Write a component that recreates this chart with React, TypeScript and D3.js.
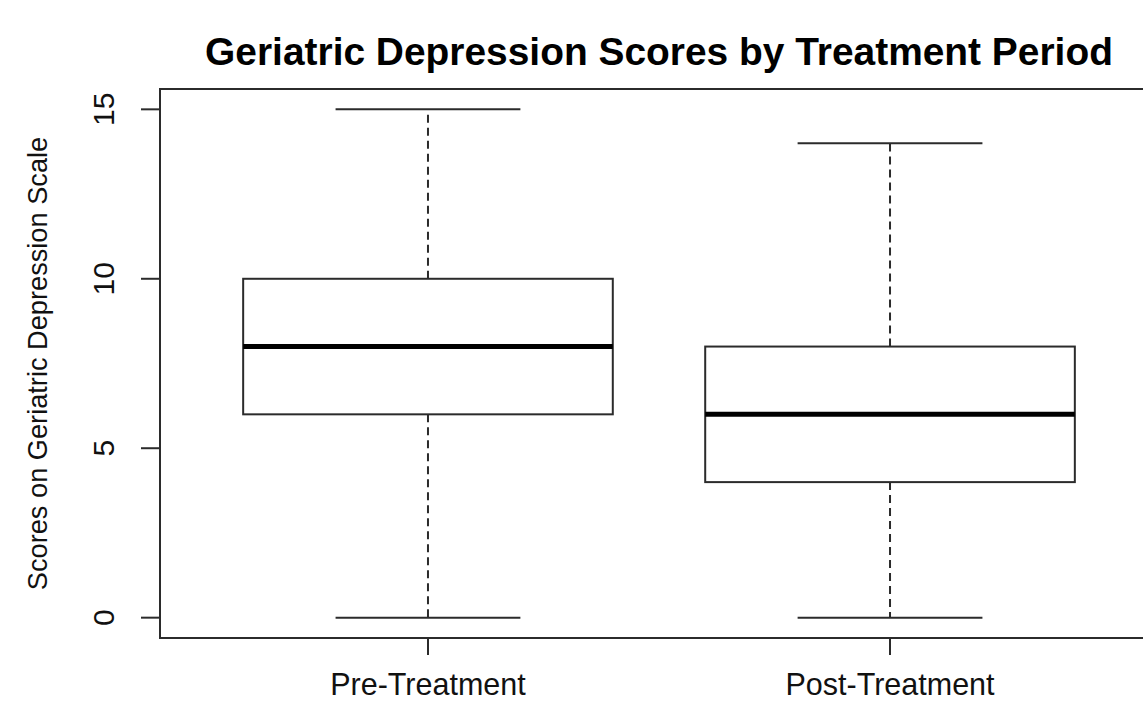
import React from "react";
import * as d3 from "d3";

const categories = ["Pre-Treatment", "Post-Treatment"];
const mins = [0, 0];
const q1s = [6, 4];
const medians = [8, 6];
const q3s = [10, 8];
const maxs = [15, 14];
const yTicks = [0, 5, 10, 15];
const title = "Geriatric Depression Scores by Treatment Period";
const yLabel = "Scores on Geriatric Depression Scale";

const W = 1143;
const H = 701;

export default function App() {
  const x = d3.scaleLinear().domain([0.42, 2.58]).range([160, 1158]);
  const y = d3.scaleLinear().domain([-0.6, 15.6]).range([638, 89]);
  const font = "'Liberation Sans', Arial, sans-serif";
  const stroke = "#2b2b2b";
  const boxHalf = 0.4;
  const capHalf = 0.2;
  return (
    <div style={{ position: "absolute", left: 0, top: 0 }}>
      <svg width={W} height={H} style={{ display: "block", background: "#fff" }}>
        <rect x={0} y={0} width={W} height={H} fill="#fff" />
        <text
          x={(x.range()[0] + x.range()[1]) / 2}
          y={65}
          textAnchor="middle"
          fontFamily={font}
          fontWeight="bold"
          fontSize={38.9}
          fill="#000"
        >
          {title}
        </text>
        {categories.map((c, i) => {
          const cx = x(i + 1);
          return (
            <g key={c}>
              <line x1={cx} x2={cx} y1={y(q3s[i])} y2={y(maxs[i])} stroke={stroke} strokeWidth={2} strokeDasharray="8,5" />
              <line x1={cx} x2={cx} y1={y(q1s[i])} y2={y(mins[i])} stroke={stroke} strokeWidth={2} strokeDasharray="8,5" />
              <line x1={x(i + 1 - capHalf)} x2={x(i + 1 + capHalf)} y1={y(maxs[i])} y2={y(maxs[i])} stroke={stroke} strokeWidth={2} />
              <line x1={x(i + 1 - capHalf)} x2={x(i + 1 + capHalf)} y1={y(mins[i])} y2={y(mins[i])} stroke={stroke} strokeWidth={2} />
              <rect
                x={x(i + 1 - boxHalf)}
                y={y(q3s[i])}
                width={x(i + 1 + boxHalf) - x(i + 1 - boxHalf)}
                height={y(q1s[i]) - y(q3s[i])}
                fill="#fff"
                stroke={stroke}
                strokeWidth={2}
              />
              <line x1={x(i + 1 - boxHalf)} x2={x(i + 1 + boxHalf)} y1={y(medians[i])} y2={y(medians[i])} stroke="#000" strokeWidth={5} />
              <line x1={cx} x2={cx} y1={638} y2={655} stroke={stroke} strokeWidth={2} />
              <text x={cx} y={695} textAnchor="middle" fontFamily={font} fontSize={30.5} fill="#111">
                {c}
              </text>
            </g>
          );
        })}
        <rect x={x.range()[0]} y={y.range()[1]} width={x.range()[1] - x.range()[0]} height={y.range()[0] - y.range()[1]} fill="none" stroke={stroke} strokeWidth={2} />
        {yTicks.map((t) => (
          <g key={t}>
            <line x1={141} x2={160} y1={y(t)} y2={y(t)} stroke={stroke} strokeWidth={2} />
            <text
              transform={`translate(114,${y(t)}) rotate(-90)`}
              textAnchor="middle"
              fontFamily={font}
              fontSize={30}
              fill="#111"
            >
              {t}
            </text>
          </g>
        ))}
        <text
          transform={`translate(47,${(y.range()[0] + y.range()[1]) / 2}) rotate(-90)`}
          textAnchor="middle"
          fontFamily={font}
          fontSize={27.2}
          fill="#111"
        >
          {yLabel}
        </text>
      </svg>
    </div>
  );
}
